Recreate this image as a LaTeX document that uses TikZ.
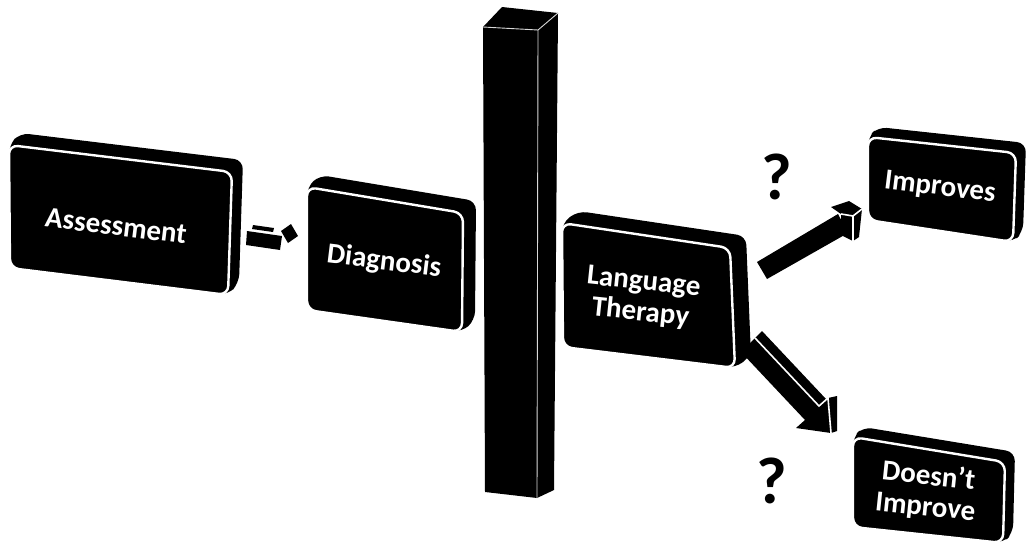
\documentclass[tikz,border=0pt]{standalone}
\usepackage{fontspec}
\newfontfamily\carl{Carlito}
\usetikzlibrary{calc}
\newcommand{\cuboid}[5]{%
  \fill[black, rounded corners=9pt] #1 -- ($#1+#5$) -- ($#2+#5$) -- ($#3+#5$) -- #3 -- #4 -- cycle;
  \path[draw=white, line width=2.4pt, fill=black, rounded corners=9pt] #1 -- #2 -- #3 -- #4 -- cycle;
}
\tikzset{
  boxtext/.style={text=white, font=\carl\bfseries\fontsize{29}{31}\selectfont, align=center, rotate=-7, inner sep=0pt},
  qmark/.style={font=\carl\bfseries\fontsize{66}{66}\selectfont, inner sep=0pt},
  sep/.style={draw=white, line width=1.6pt},
  thinsep/.style={draw=white!85!black, line width=0.9pt}
}
\begin{document}
\begin{tikzpicture}[x=1pt,y=-1pt]
\useasboundingbox (0,0) rectangle (1029,550);
\fill[white] (0,0) rectangle (1029,550);

% boxes
\cuboid{(9,145)}{(232,172)}{(228,295)}{(10,268)}{(11,-12)}
\node[boxtext] (assess) at (116,226) {Assessment};

\cuboid{(307,187)}{(463,213)}{(462,332)}{(307,310)}{(13,-12)}
\node[boxtext] (diag) at (384,262) {Diagnosis};

\cuboid{(562,223)}{(730,248)}{(735,368)}{(563,347)}{(16,-12)}
\node[boxtext, rotate=1] (lang) at (642,298) {Language\\Therapy};

\cuboid{(868,137)}{(1016,153)}{(1013,242)}{(868,220)}{(10,-10)}
\node[boxtext] (impr) at (940,188) {Improves};

\cuboid{(853,437)}{(1005,462)}{(1003,543)}{(853,527)}{(10,-10)}
\node[boxtext, rotate=1] (notimpr) at (927,492) {Doesn’t\\Improve};

% pillar
\coordinate (pfl) at (483,27);
\coordinate (pfr) at (538,30);
\coordinate (pbl) at (502,7);
\coordinate (pbr) at (558,13);
\coordinate (pdl) at (485,492);
\coordinate (pdr) at (537,498);
\coordinate (pds) at (554,490);
\fill[black] (pfl) -- (pbl) -- (pbr) -- (pds) -- (pdr) -- (pdl) -- cycle;
\draw[thinsep] (pfl) -- (pfr) -- (pdr);
\draw[thinsep] (pfr) -- (pbr);

% small arrow Assessment -> Diagnosis
\coordinate (sa1) at (247,231);
\fill[black] (253,225) -- (274,228) -- (273,232) -- (252,229) -- cycle;
\fill[black] (sa1) -- (282,236) -- (280,250) -- (246,245) -- cycle;
\fill[black] (281,231) -- (291,224) -- (298,236) -- (288,243) -- cycle;

% arrow Language Therapy -> Improves
\coordinate (ia) at (757,262);
\coordinate (ib) at (838,214);
\coordinate (ic) at (848,233);
\coordinate (id) at (767,279);
\fill[black] (ia) -- (ib) -- (ic) -- (id) -- cycle;
\fill[black] (831,207) -- (849,201) -- (862,209) -- (859,237) -- (853,241) -- (841,235) -- (841,214) -- cycle;
\draw[sep] (841,214) -- (853,216) -- (853,241);
\draw[sep] (853,216) -- (862,209);

% arrow Language Therapy -> Doesn't Improve
\coordinate (da1) at (755,338);
\coordinate (da2) at (741,352);
\coordinate (db1) at (819,406);
\coordinate (db2) at (805,420);
\coordinate (dh1) at (828,398);
\coordinate (dh2) at (796,428);
\coordinate (dtip) at (831,433);
\fill[black] ($(da1)+(7,-7)$) -- ($(db1)+(7,-7)$) -- (db1) -- (da1) -- cycle;
\fill[black] (da1) -- (db1) -- (dh1) -- (dtip) -- (dh2) -- (db2) -- (da2) -- cycle;
\fill[black] (dh1) -- (837,396) -- (837,431) -- (dtip) -- cycle;
\draw[sep] (da1) -- (db1) -- (dh1) -- (dtip);

% question marks
\node[qmark] (q1) at (777,177) {?};
\node[qmark] (q2) at (772,481) {?};
\end{tikzpicture}
\end{document}
